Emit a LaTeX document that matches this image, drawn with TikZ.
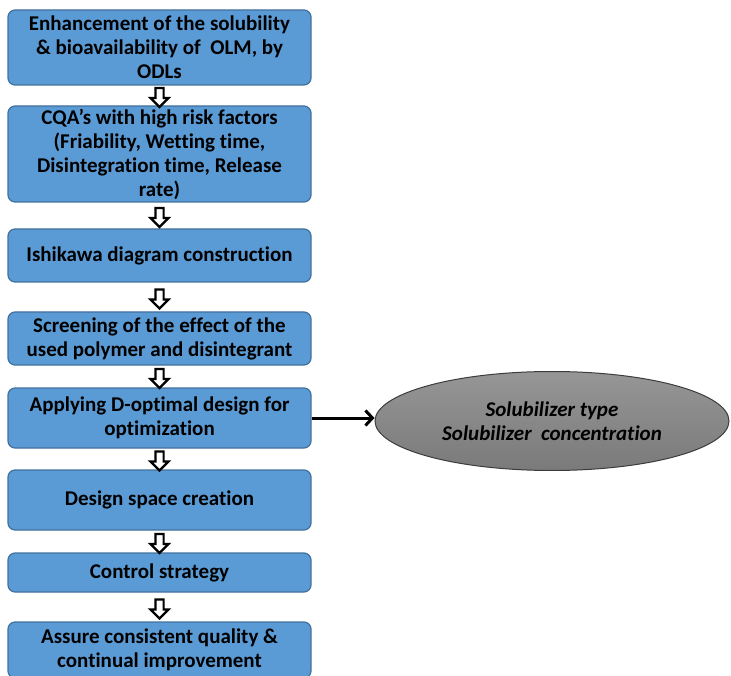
\documentclass[tikz,border=0pt]{standalone}
\usepackage{fontspec}
\setmainfont{Carlito}[RawFeature=-liga]
\usetikzlibrary{shapes.geometric,shapes.arrows,arrows.meta,calc}

\begin{document}
\begin{tikzpicture}[
    x=1pt,y=1pt,
    yscale=-1,xscale=1,
    font = \fontsize{21}{24}\selectfont\bfseries,
    stepbox/.style = {
        draw = {rgb, 255:red, 65; green, 113; blue, 156},
        fill = {rgb, 255:red, 91; green, 155; blue, 213},
        line width = 1.2pt,
        rounded corners = 7pt,
        minimum width = 303pt,
        inner sep = 2pt,
        align = center,
    },
    downarrow/.style = {
        single arrow, draw, fill = white,
        line width = 2.2pt,
        shape border rotate = 270,
        minimum height = 19pt,
        inner sep = 3pt,
        single arrow head extend = 5pt,
    },
]
    \useasboundingbox (0,0) rectangle (731,676);
    \clip (0,0) rectangle (731,676);

    % 方框
    \node [stepbox, minimum height=75pt] (aim) at (159.5,47.5) {
        Enhancement of the solubility\\ \& bioavailability of\ \ OLM, by\\ ODLs
    };
    \node [stepbox, minimum height=96pt] (cqa) at (159.5,154) {
        CQA’s with high risk factors\\ (Friability, Wetting time,\\
        Disintegration time, Release\\ rate)
    };
    \node [stepbox, minimum height=53pt] (ishi) at (159.5,255.5) {Ishikawa diagram construction};
    \node [stepbox, minimum height=53pt] (screen) at (159.5,338.5) {
        Screening of the effect of the\\ used polymer and disintegrant
    };
    \node [stepbox, minimum height=60pt] (dopt) at (159.5,418) {
        Applying D-optimal design for\\ optimization
    };
    \node [stepbox, minimum height=60pt] (space) at (159.5,500) {Design space creation};
    \node [stepbox, minimum height=39pt] (ctrl) at (159.5,572.5) {Control strategy};
    \node [stepbox, minimum height=56pt] (assure) at (159.5,650) {
        Assure consistent quality \&\\ continual improvement
    };

    % 椭圆
    \node [
        ellipse, draw = {rgb, 255:red, 60; green, 60; blue, 60},
        line width = 1pt,
        top color = {rgb, 255:red, 150; green, 150; blue, 150},
        bottom color = {rgb, 255:red, 122; green, 122; blue, 122},
        minimum width = 354pt, minimum height = 99pt,
        align = center, font = \fontsize{21}{24}\selectfont\bfseries\itshape,
    ] (solub) at (552,421) {Solubilizer type\\ Solubilizer\ \ concentration};

    % 箭头
    \node [downarrow] (a1) at ($(aim.south)!0.5!(cqa.north)$) {};
    \node [downarrow] (a2) at ($(cqa.south)!0.5!(ishi.north)$) {};
    \node [downarrow] (a3) at ($(ishi.south)!0.5!(screen.north)$) {};
    \node [downarrow] (a4) at ($(screen.south)!0.5!(dopt.north)$) {};
    \node [downarrow] (a5) at ($(dopt.south)!0.5!(space.north)$) {};
    \node [downarrow] (a6) at ($(space.south)!0.5!(ctrl.north)$) {};
    \node [downarrow] (a7) at ($(ctrl.south)!0.5!(assure.north)$) {};
    \draw [line width=3pt, -{Straight Barb[length=7pt,width=15pt]}]
        (dopt.east) -- (dopt.east -| solub.west);
\end{tikzpicture}
\end{document}
